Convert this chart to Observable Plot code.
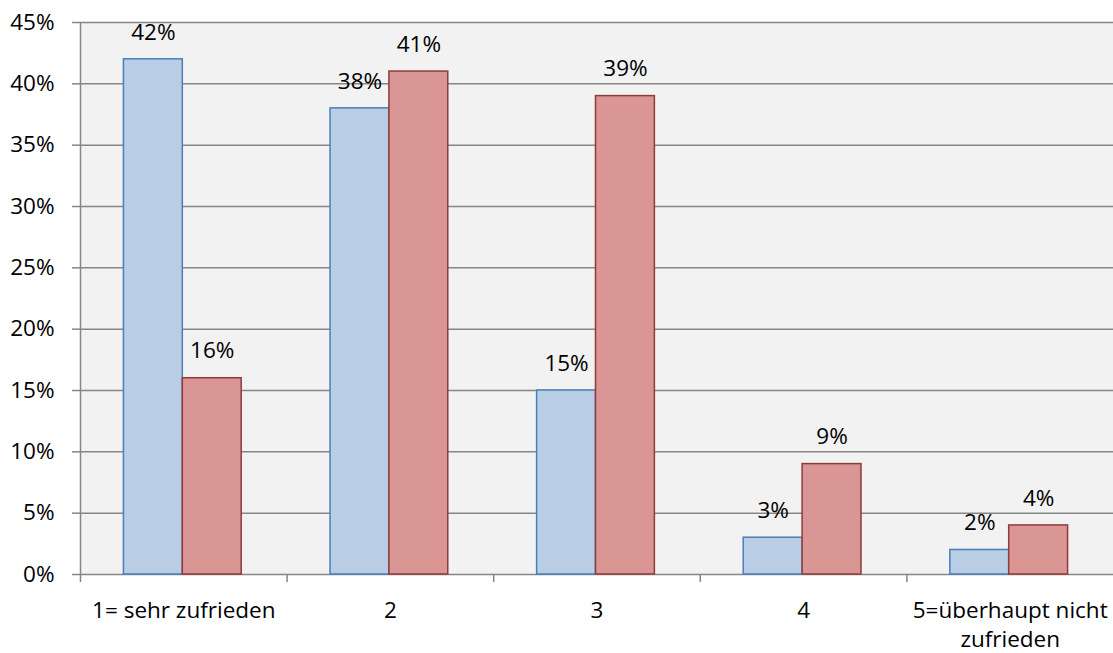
<!DOCTYPE html>
<html>
<head>
<meta charset="utf-8">
<script src="https://cdn.jsdelivr.net/npm/d3@7"></script>
<script src="https://cdn.jsdelivr.net/npm/@observablehq/plot@0.6"></script>
<style>
  html, body { margin: 0; padding: 0; background: #ffffff; }
  #chart svg { display: block; }
</style>
</head>
<body>
<div id="chart"></div>
<script>
const categories = ["1= sehr zufrieden", "2", "3", "4", "5=überhaupt nicht zufrieden"];
const tickLabels = ["1= sehr zufrieden", "2", "3", "4", "5=überhaupt nicht\nzufrieden"];
const seriesA = [42, 38, 15, 3, 2];   // blue
const seriesB = [16, 41, 39, 9, 4];   // red
const yTicks = [0, 5, 10, 15, 20, 25, 30, 35, 40, 45];

const dataA = categories.map((c, i) => ({cat: c, value: seriesA[i]}));
const dataB = categories.map((c, i) => ({cat: c, value: seriesB[i]}));

const W = 1113, H = 653;
const mL = 80, mR = 0, mT = 22, mB = 79;
const step = (W - mL - mR) / categories.length;
const barW = step * 0.285;
const outer = (step - 2 * barW) / 2 - 1;
const font = "'Open Sans', sans-serif";
const grid = "#868686";

const chart = Plot.plot({
  width: W,
  height: H,
  marginLeft: mL,
  marginRight: mR,
  marginTop: mT,
  marginBottom: mB,
  style: {fontFamily: font, fontSize: "22.5px", color: "#000", background: "transparent", overflow: "visible"},
  x: {domain: categories, padding: 0, round: false, axis: null},
  y: {domain: [0, 45], axis: null},
  marks: [
    Plot.frame({fill: "#f2f2f2", stroke: null}),
    Plot.ruleY(yTicks, {stroke: grid, strokeWidth: 1.5}),
    Plot.axisY({
      ticks: yTicks, tickSize: 8, tickPadding: 18, stroke: grid, strokeWidth: 1.5,
      tickFormat: d => d + "%", fill: "#000", fontSize: 22.5, label: null
    }),
    Plot.ruleX(categories, {x: d => d, dx: -step / 2, y1: 0, y2: 45, stroke: grid, strokeWidth: 1.5, filter: (d, i) => i === 0}),
    Plot.axisX({
      tickSize: 8, dx: -step / 2, stroke: grid, strokeWidth: 1.5,
      tickFormat: () => "", label: null
    }),
    Plot.barY(dataA, {
      x: "cat", y: "value", insetLeft: outer, insetRight: step - outer - barW,
      fill: "#b9cde5", stroke: "#4a7ebb", strokeWidth: 1.5
    }),
    Plot.barY(dataB, {
      x: "cat", y: "value", insetLeft: outer + barW, insetRight: step - outer - 2 * barW,
      fill: "#d99694", stroke: "#8e3b3a", strokeWidth: 1.5
    }),
    Plot.text(dataA, {
      x: "cat", y: "value", text: d => d.value + "%", dx: outer + barW / 2 - step / 2, dy: -27,
      lineAnchor: "middle", fill: "#000", fontSize: 22.5
    }),
    Plot.text(dataB, {
      x: "cat", y: "value", text: d => d.value + "%", dx: outer + 1.5 * barW - step / 2, dy: -27,
      lineAnchor: "middle", fill: "#000", fontSize: 22.5
    }),
    Plot.axisX({
      tickSize: 0, tickPadding: 23, label: null, fill: "#000", fontSize: 22.5,
      lineHeight: 1.28,
      tickFormat: d => tickLabels[categories.indexOf(d)]
    })
  ]
});
document.getElementById("chart").appendChild(chart);
</script>
</body>
</html>
